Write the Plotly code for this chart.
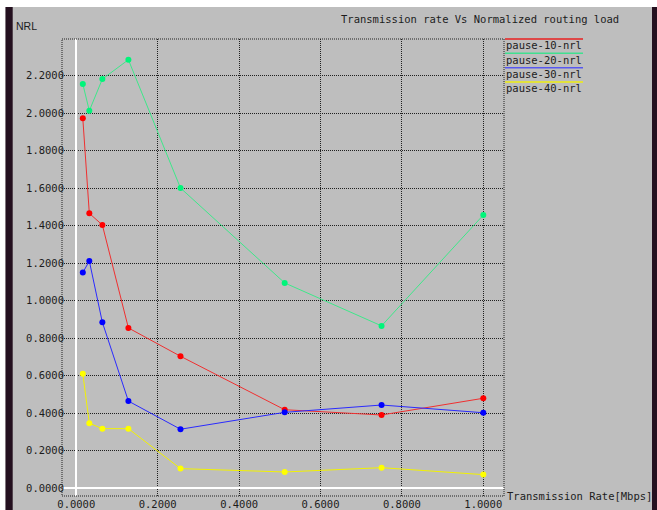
import plotly.graph_objects as go

# Transmission rate (Mbps) for every run
rate = [0.016, 0.032, 0.064, 0.128, 0.256, 0.512, 0.75, 1.0]

# Normalized routing load per pause time
pause_10_nrl = [1.973, 1.466, 1.404, 0.855, 0.704, 0.419, 0.391, 0.480]
pause_20_nrl = [2.156, 2.013, 2.182, 2.285, 1.601, 1.095, 0.866, 1.457]
pause_30_nrl = [1.150, 1.212, 0.885, 0.465, 0.315, 0.405, 0.444, 0.403]
pause_40_nrl = [0.611, 0.347, 0.318, 0.318, 0.105, 0.087, 0.110, 0.073]

series_names = ["pause-10-nrl", "pause-20-nrl", "pause-30-nrl", "pause-40-nrl"]
series_values = [pause_10_nrl, pause_20_nrl, pause_30_nrl, pause_40_nrl]
marker_colors = ["#ff0000", "#00f57a", "#0000ff", "#ffff00"]
line_colors = ["#f03030", "#3ee88a", "#2a2aff", "#f2f200"]
legend_colors = ["#e82020", "#40e090", "#5858f0", "#eeee10"]

W, H = 657, 510
L, R, T, B = 62, 153, 39, 14
PW, PH = W - L - R, H - T - B

BG = "#bebebe"
MONO = "DejaVu Sans Mono"
TXT = "#1c1c1c"


def px(x):
    return (x - L) / PW


def py(y):
    return (H - B - y) / PH


fig = go.Figure()
for name, vals, mc, lc in zip(series_names, series_values, marker_colors, line_colors):
    fig.add_trace(go.Scatter(
        x=rate, y=vals, name=name, mode="lines+markers",
        line=dict(color=lc, width=1),
        marker=dict(color=mc, size=6, line=dict(width=0)),
        showlegend=False,
    ))

shapes = []
annotations = []

# dotted frame around the plotting area
shapes.append(dict(type="rect", xref="paper", yref="paper", x0=0, x1=1, y0=0, y1=1,
                   line=dict(color="#202020", width=1, dash="1px,1px"), layer="above"))

# legend: a coloured line above each label
leg_line_y = [39, 53.3, 67.7, 82]
for name, col, ly in zip(series_names, legend_colors, leg_line_y):
    shapes.append(dict(type="line", xref="paper", yref="paper",
                       x0=px(505), x1=px(583), y0=py(ly), y1=py(ly),
                       line=dict(color=col, width=1.5)))
    annotations.append(dict(text=name, xref="paper", yref="paper",
                            x=px(504), y=py(ly + 6.2), xanchor="left", yanchor="middle",
                            showarrow=False, font=dict(family=MONO, size=10.5, color=TXT)))

# window edges around the graph
shapes += [
    dict(type="rect", xref="paper", yref="paper", x0=px(0), x1=px(W), y0=py(0), y1=py(7),
         fillcolor="#ffffff", line=dict(width=0), layer="above"),
    dict(type="rect", xref="paper", yref="paper", x0=px(0), x1=px(5.5), y0=py(7), y1=py(H),
         fillcolor="#ffffff", line=dict(width=0), layer="above"),
    dict(type="rect", xref="paper", yref="paper", x0=px(5.5), x1=px(12.7), y0=py(7), y1=py(H),
         fillcolor="#24101f", line=dict(width=0), layer="above"),
    dict(type="rect", xref="paper", yref="paper", x0=px(652), x1=px(W), y0=py(7), y1=py(H),
         fillcolor="#24101f", line=dict(width=0), layer="above"),
]

annotations += [
    dict(text="Transmission rate Vs Normalized routing load", xref="paper", yref="paper",
         x=px(339), y=py(19.3), xanchor="left", yanchor="middle", showarrow=False,
         font=dict(family=MONO, size=10.5, color=TXT)),
    dict(text="NRL", xref="paper", yref="paper", x=px(13.5), y=py(25.7),
         xanchor="left", yanchor="middle", showarrow=False,
         font=dict(family="Liberation Sans", size=10.5, color=TXT)),
    dict(text="Transmission Rate[Mbps]", xref="paper", yref="paper", x=px(505), y=py(496),
         xanchor="left", yanchor="middle", showarrow=False,
         font=dict(family=MONO, size=10.5, color=TXT)),
]

fig.update_layout(
    width=W, height=H,
    margin=dict(l=L, r=R, t=T, b=B, pad=0, autoexpand=False),
    paper_bgcolor=BG, plot_bgcolor=BG,
    shapes=shapes, annotations=annotations,
    xaxis=dict(range=[(L - 76.3) / 407, (L + PW - 76.3) / 407],
               tick0=0, dtick=0.2, tickformat=".4f", automargin=False,
               showgrid=True, gridcolor="#202020", gridwidth=1, griddash="1px,1px",
               zeroline=True, zerolinecolor="#ffffff", zerolinewidth=1.5,
               showline=False, ticks="",
               tickfont=dict(family=MONO, size=10.5, color=TXT)),
    yaxis=dict(range=[-(H - B - 488.3) / 187.55, (488.3 - T) / 187.55],
               tick0=0, dtick=0.2, tickformat=".4f", automargin=False,
               showgrid=True, gridcolor="#202020", gridwidth=1, griddash="1px,1px",
               zeroline=True, zerolinecolor="#ffffff", zerolinewidth=1.5,
               showline=False, ticks="", ticklabelstandoff=-3,
               tickfont=dict(family=MONO, size=10.5, color=TXT)),
)

fig.write_html("out.html")
